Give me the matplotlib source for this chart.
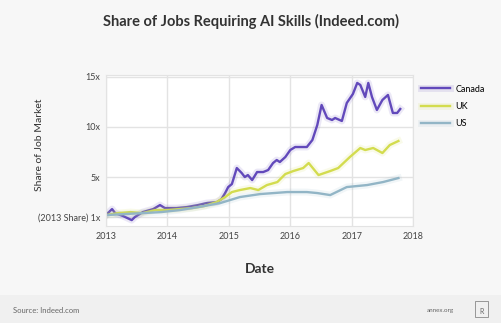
import matplotlib
matplotlib.use("Agg")
import matplotlib.pyplot as plt
import matplotlib.patheffects as pe
from matplotlib.patches import Rectangle

# decimal years
canada_x = [2013.0, 2013.05, 2013.1, 2013.15, 2013.28, 2013.42, 2013.47, 2013.6, 2013.77,
            2013.88, 2013.96, 2014.15, 2014.32, 2014.5, 2014.64, 2014.81, 2014.88, 2014.94,
            2014.99, 2015.05, 2015.13, 2015.21, 2015.26, 2015.31, 2015.38, 2015.46, 2015.56,
            2015.64, 2015.72, 2015.78, 2015.83, 2015.92, 2016.0, 2016.08, 2016.27, 2016.36,
            2016.44, 2016.51, 2016.6, 2016.68, 2016.73, 2016.84, 2016.92, 2017.02, 2017.09,
            2017.14, 2017.22, 2017.27, 2017.33, 2017.41, 2017.5, 2017.59, 2017.67, 2017.74,
            2017.79]
canada_y = [1.2, 1.5, 1.8, 1.4, 1.1, 0.7, 1.0, 1.5, 1.8,
            2.2, 1.9, 1.9, 2.0, 2.2, 2.4, 2.5, 2.8, 3.4,
            4.0, 4.3, 5.9, 5.4, 5.0, 5.2, 4.7, 5.5, 5.5,
            5.7, 6.4, 6.7, 6.5, 7.0, 7.7, 8.0, 8.0, 8.7,
            10.2, 12.2, 10.9, 10.7, 10.9, 10.6, 12.4, 13.3, 14.4,
            14.2, 13.0, 14.4, 13.0, 11.7, 12.7, 13.2, 11.4, 11.4,
            11.8]

uk_x = [2013.0, 2013.2, 2013.4, 2013.6, 2013.8, 2014.0, 2014.2, 2014.4, 2014.6, 2014.8,
        2014.94, 2015.05, 2015.18, 2015.35, 2015.48, 2015.62, 2015.79, 2015.92, 2016.05,
        2016.21, 2016.3, 2016.46, 2016.65, 2016.78, 2016.97, 2017.14, 2017.22, 2017.35,
        2017.5, 2017.62, 2017.76]
uk_y = [1.2, 1.4, 1.5, 1.4, 1.7, 1.7, 1.8, 1.9, 2.1, 2.5,
        3.0, 3.5, 3.7, 3.9, 3.7, 4.2, 4.5, 5.3, 5.6,
        5.9, 6.4, 5.2, 5.6, 5.9, 7.0, 7.9, 7.7, 7.9,
        7.4, 8.2, 8.6]

us_x = [2013.0, 2013.3, 2013.6, 2013.9, 2014.2, 2014.5, 2014.86, 2015.18, 2015.51, 2015.95,
        2016.27, 2016.44, 2016.65, 2016.92, 2017.25, 2017.51, 2017.76]
us_y = [1.2, 1.3, 1.4, 1.5, 1.7, 2.0, 2.4, 3.0, 3.3, 3.5,
        3.5, 3.4, 3.2, 4.0, 4.2, 4.5, 4.9]

year_ticks = [2013, 2014, 2015, 2016, 2017, 2018]
y_ticks = [1, 5, 10, 15]
y_labels = ["(2013 Share) 1x", "5x", "10x", "15x"]

plt.rcParams['font.family'] = ['Lato', 'DejaVu Sans']

fig = plt.figure(figsize=(5.02, 3.23), dpi=100, facecolor="#f7f7f7")
fig.patches.append(Rectangle((0, 0), 1, 0.087, transform=fig.transFigure,
                             facecolor="#f0f0f0", edgecolor="none", zorder=0))

ax = fig.add_axes([0.211, 0.30, 0.612, 0.468])
ax.set_facecolor("white")

series = [(canada_x, canada_y, "Canada", "#6249bb"),
          (uk_x, uk_y, "UK", "#d3dc4e"),
          (us_x, us_y, "US", "#92b5c6")]
for xs, ys, name, col in series:
    ax.plot(xs, ys, color=col, lw=1.7, label=name, solid_joinstyle="round",
            path_effects=[pe.Stroke(linewidth=5, foreground=col, alpha=0.12), pe.Normal()])

ax.set_xlim(2013, 2018)
ax.set_ylim(0.1, 15.2)
ax.set_xticks(year_ticks)
ax.set_xticklabels([str(y) for y in year_ticks])
ax.set_yticks(y_ticks)
ax.set_yticklabels(y_labels)
ax.tick_params(length=0, labelsize=6.5, colors="#444444", pad=4)
ax.grid(True, color="#e3e3e3", lw=1)
for s in ax.spines.values():
    s.set_color("#e3e3e3")

ax.set_xlabel("Date", fontsize=10, fontweight="bold", color="#333333", labelpad=16)
ax.set_ylabel("Share of Job Market", fontsize=7.5, color="#333333")
ax.yaxis.set_label_coords(-0.2, 0.54)

ax.legend(loc="upper left", bbox_to_anchor=(1.0, 0.99), frameon=False, fontsize=6.5,
          handlelength=3.2, labelspacing=0.9, handletextpad=0.6)

fig.text(0.5, 0.932, "Share of Jobs Requiring AI Skills (Indeed.com)", ha="center",
         va="center", fontsize=10.5, fontweight="bold", color="#333333")
fig.text(0.026, 0.04, "Source: Indeed.com", fontsize=5.5, color="#666666", va="center")
fig.text(0.905, 0.04, "annex.org", fontsize=4.5, color="#666666", va="center", ha="right")
fig.patches.append(Rectangle((0.947, 0.018), 0.025, 0.05, transform=fig.transFigure,
                             facecolor="none", edgecolor="#888888", lw=0.6))
fig.text(0.96, 0.035, "R", fontsize=5, color="#666666", ha="center", va="center")

fig.savefig("out.png", dpi=100, facecolor=fig.get_facecolor())
